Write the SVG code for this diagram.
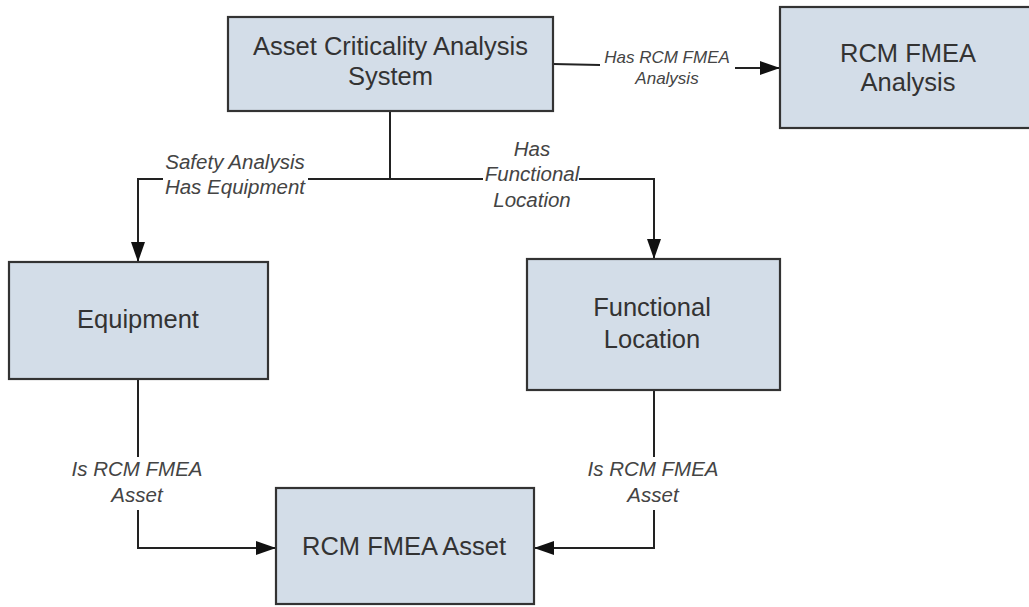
<svg xmlns="http://www.w3.org/2000/svg" width="1029" height="607" viewBox="0 0 1029 607">
<style>
.box{fill:#d3dde8;stroke:#333;stroke-width:2.2}
.nt{font-family:"Liberation Sans",Arial,sans-serif;font-size:25.5px;fill:#333;text-anchor:middle}
.lb{font-family:"Liberation Sans",Arial,sans-serif;font-size:20.5px;font-style:italic;fill:#444;text-anchor:middle}
.lbs{font-family:"Liberation Sans",Arial,sans-serif;font-size:17px;font-style:italic;fill:#444;text-anchor:middle}
.ln{fill:none;stroke:#222;stroke-width:2}
</style>
<defs>
<marker id="ah" markerUnits="userSpaceOnUse" markerWidth="21" markerHeight="15" refX="20" refY="7" orient="auto">
<path d="M0,0 L20,7 L0,14 z" fill="#111"/>
</marker>
</defs>
<g id="connectors">
<path class="ln" d="M553,64 L600,65"/>
<path class="ln" d="M735,68 L780,68" marker-end="url(#ah)"/>
<path class="ln" d="M390,111 L390,179"/>
<path class="ln" d="M308,179 L483,179"/>
<path class="ln" d="M163,179 L138,179 L138,262" marker-end="url(#ah)"/>
<path class="ln" d="M579,179 L654,179 L654,259" marker-end="url(#ah)"/>
<path class="ln" d="M138,379 L138,457"/>
<path class="ln" d="M138,510 L138,548 L276,548" marker-end="url(#ah)"/>
<path class="ln" d="M654,390 L654,457"/>
<path class="ln" d="M654,510 L654,548 L534,548" marker-end="url(#ah)"/>
<text class="lbs" x="667" y="63">Has RCM FMEA</text>
<text class="lbs" x="667" y="84">Analysis</text>
<text class="lb" x="235" y="169">Safety Analysis</text>
<text class="lb" x="235" y="194">Has Equipment</text>
<text class="lb" x="532" y="156">Has</text>
<text class="lb" x="532" y="181">Functional</text>
<text class="lb" x="532" y="207">Location</text>
<text class="lb" x="137" y="476">Is RCM FMEA</text>
<text class="lb" x="137" y="502">Asset</text>
<text class="lb" x="653" y="476">Is RCM FMEA</text>
<text class="lb" x="653" y="502">Asset</text>
</g>
<g id="acas">
<rect class="box" x="228" y="17" width="325" height="94"/>
<text class="nt" x="390.5" y="55">Asset Criticality Analysis</text>
<text class="nt" x="390.5" y="85">System</text>
</g>
<g id="rcm-fmea-analysis">
<rect class="box" x="780" y="7" width="256" height="121"/>
<text class="nt" x="908" y="62">RCM FMEA</text>
<text class="nt" x="908" y="91">Analysis</text>
</g>
<g id="equipment">
<rect class="box" x="9" y="262" width="259" height="117"/>
<text class="nt" x="138" y="328">Equipment</text>
</g>
<g id="functional-location">
<rect class="box" x="527" y="259" width="253" height="131"/>
<text class="nt" x="652" y="316">Functional</text>
<text class="nt" x="652" y="348">Location</text>
</g>
<g id="rcm-fmea-asset">
<rect class="box" x="276" y="488" width="258" height="116"/>
<text class="nt" x="404" y="555">RCM FMEA Asset</text>
</g>
</svg>
